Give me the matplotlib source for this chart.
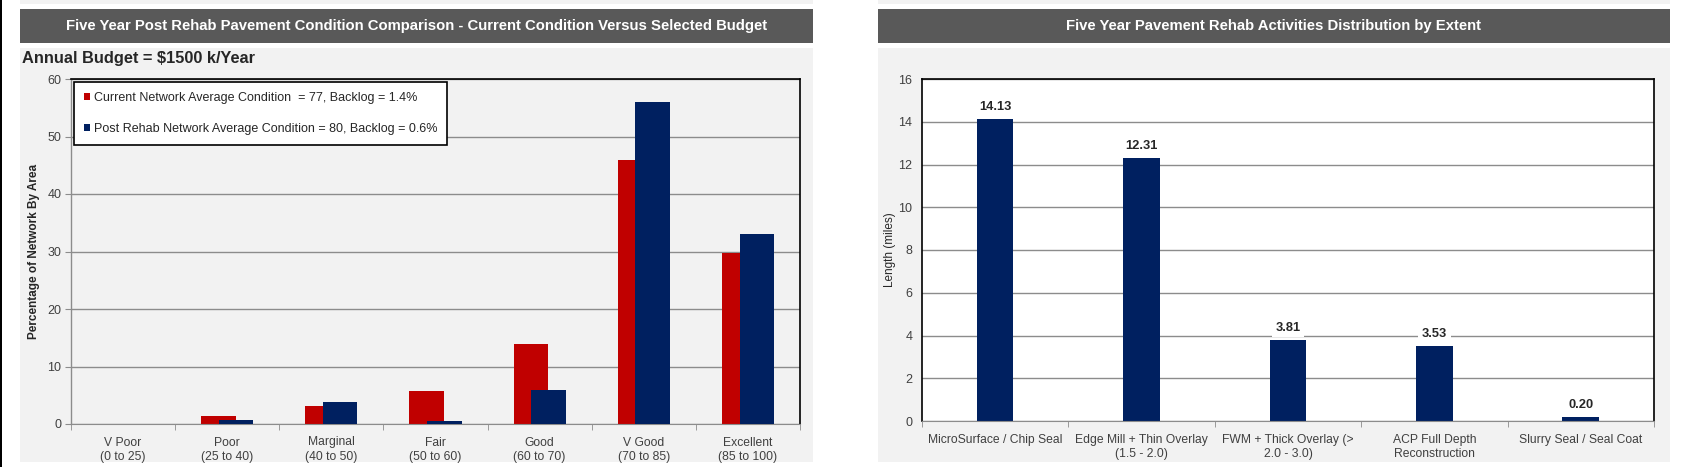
import matplotlib
matplotlib.use('Agg')
import matplotlib.pyplot as plt
from matplotlib.patches import Rectangle

# Data
conditions = ['V Poor\n(0 to 25)', 'Poor\n(25 to 40)', 'Marginal\n(40 to 50)', 'Fair\n(50 to 60)',
              'Good\n(60 to 70)', 'V Good\n(70 to 85)', 'Excellent\n(85 to 100)']
current_pct = [0.0, 1.4, 3.1, 5.8, 14.0, 45.9, 29.7]
post_rehab_pct = [0.0, 0.7, 3.8, 0.5, 5.9, 56.0, 33.0]
current_label = 'Current Network Average Condition  = 77, Backlog = 1.4%'
post_label = 'Post Rehab Network Average Condition = 80, Backlog = 0.6%'
budget_text = 'Annual Budget = $1500 k/Year'

activities = ['MicroSurface / Chip Seal', 'Edge Mill + Thin Overlay\n(1.5 - 2.0)',
              'FWM + Thick Overlay (>\n2.0 - 3.0)', 'ACP Full Depth\nReconstruction',
              'Slurry Seal / Seal Coat']
length_miles = [14.13, 12.31, 3.81, 3.53, 0.20]

title_left = 'Five Year Post Rehab Pavement Condition Comparison - Current Condition Versus Selected Budget'
title_right = 'Five Year Pavement Rehab Activities Distribution by Extent'

RED = '#c00000'
NAVY = '#002060'
PANEL = '#f2f2f2'
BAR = '#595959'
GRID = '#8c8c8c'
TXT = '#404040'
plt.rcParams['font.family'] = ['Liberation Sans Narrow', 'Liberation Sans', 'DejaVu Sans']

W, H = 1683, 476
fig = plt.figure(figsize=(W / 100, H / 100), dpi=100, facecolor='white')


def rect(x0, y0, x1, y1):
    return [x0 / W, 1 - y1 / H, (x1 - x0) / W, (y1 - y0) / H]


def box(x0, y0, x1, y1, color):
    fig.patches.append(Rectangle((x0 / W, 1 - y1 / H), (x1 - x0) / W, (y1 - y0) / H,
                                 transform=fig.transFigure, facecolor=color, edgecolor='none', zorder=-5))


# panels and title bars
box(0, 0, 2, 467, 'black')
for x0, x1 in [(20, 813), (878, 1670)]:
    box(x0, 0, x1, 4, PANEL)
    box(x0, 9, x1, 43, BAR)
    box(x0, 48, x1, 462, PANEL)
fig.text((20 + 813) / 2 / W, 1 - 26 / H, title_left, color='white', fontsize=10.7,
         fontweight='bold', ha='center', va='center')
fig.text((878 + 1670) / 2 / W, 1 - 26 / H, title_right, color='white', fontsize=10.7,
         fontweight='bold', ha='center', va='center')
fig.text(22 / W, 1 - 59 / H, budget_text, color='#262626', fontsize=11.8, fontweight='bold',
         ha='left', va='center')


def style_axes(ax, n, left_black):
    ax.set_zorder(2)
    ax.set_xlim(-0.5, n - 0.5)
    ax.set_xticks(range(n))
    ax.set_xticks([i - 0.5 for i in range(n + 1)], minor=True)
    ax.tick_params(axis='x', which='major', length=0, pad=9, labelsize=8.7, labelcolor=TXT)
    ax.tick_params(axis='x', which='minor', length=4, color=GRID, direction='out')
    ax.grid(axis='y', color=GRID, linewidth=1)
    ax.set_axisbelow(True)
    for s in ['top', 'right']:
        ax.spines[s].set_color('black')
        ax.spines[s].set_linewidth(1.2)
    ax.spines['bottom'].set_color(GRID)
    ax.spines['left'].set_color('black' if left_black else GRID)
    ax.spines['left'].set_linewidth(1.2 if left_black else 1)


# left chart
ax1 = fig.add_axes(rect(71, 79, 800, 424), facecolor=PANEL)
x = range(len(conditions))
b1 = ax1.bar([i - 0.085 for i in x], current_pct, width=0.33, color=RED, label=current_label, zorder=2)
b2 = ax1.bar([i + 0.085 for i in x], post_rehab_pct, width=0.33, color=NAVY, label=post_label, zorder=3)
ax1.set_ylim(0, 60)
ax1.set_yticks(range(0, 61, 10))
style_axes(ax1, len(conditions), False)
ax1.set_xticklabels(conditions, linespacing=1.25)
ax1.tick_params(axis='y', length=4, color=GRID, pad=3, labelsize=9, labelcolor=TXT)
ax1.set_ylabel('Percentage of Network By Area', fontsize=8.5, fontweight='bold', color='#262626')
ax1.yaxis.set_label_coords(-0.043, 0.5)
leg = ax1.legend(handles=[b1, b2], loc='upper left', bbox_to_anchor=(0.004, 0.992),
                 borderaxespad=0, fancybox=False, edgecolor='black', framealpha=1,
                 facecolor='white', fontsize=9, handlelength=0.5, handleheight=0.5,
                 handletextpad=0.3, labelspacing=1.5, borderpad=0.8, labelcolor='#262626')
leg.get_frame().set_linewidth(1.2)
leg.set_zorder(5)

# right chart
ax2 = fig.add_axes(rect(922, 79, 1654, 421), facecolor='white')
x2 = range(len(activities))
ax2.bar(x2, length_miles, width=0.25, color=NAVY, zorder=2)
ax2.set_ylim(0, 16)
ax2.set_yticks(range(0, 17, 2))
style_axes(ax2, len(activities), True)
ax2.set_xticklabels(activities, linespacing=1.25)
ax2.tick_params(axis='y', length=0, pad=7, labelsize=9, labelcolor=TXT)
ax2.set_ylabel('Length (miles)', fontsize=8.5, color='#262626')
ax2.yaxis.set_label_coords(-0.036, 0.5)
for i, v in zip(x2, length_miles):
    ax2.text(i, v + 0.41, f'{v:.2f}', ha='center', va='baseline', fontsize=9.3, fontweight='bold',
             color='#262626', zorder=4,
             bbox=dict(facecolor='white', edgecolor='none', pad=2.5))

fig.savefig('out.png', dpi=100, facecolor='white')
